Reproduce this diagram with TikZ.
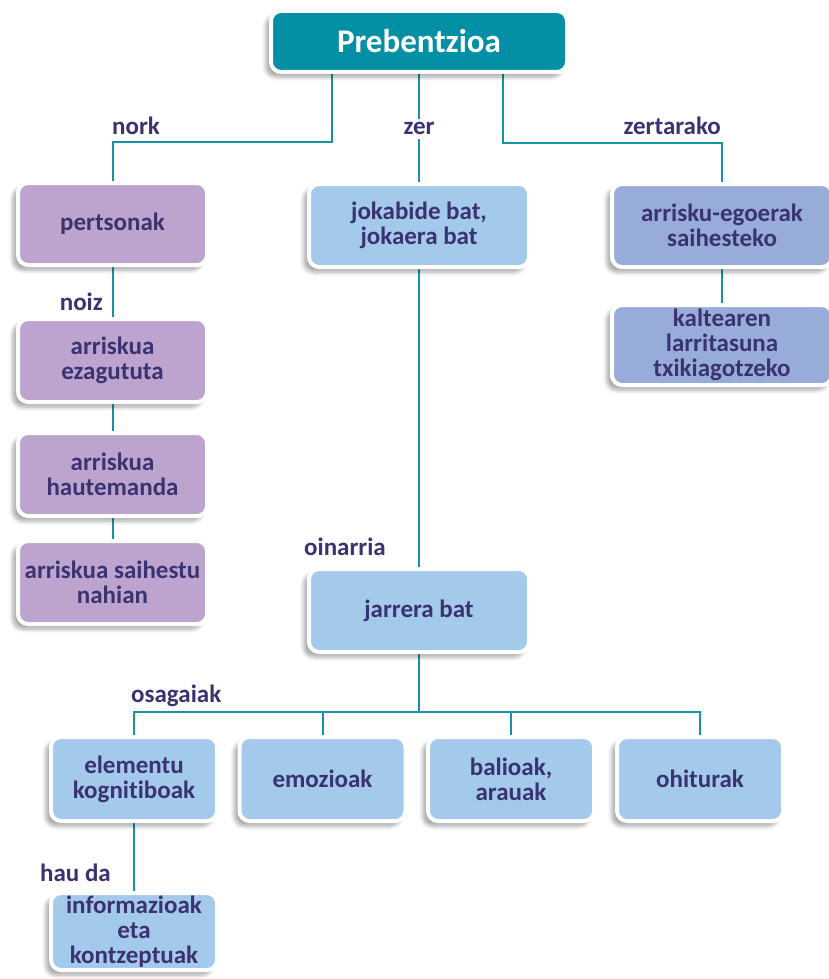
\documentclass[tikz,border=0pt]{standalone}
\usepackage{fontspec}
\setmainfont{Carlito}[Ligatures=NoCommon,RawFeature={-liga;-clig;-dlig}]
\usetikzlibrary{shadows.blur,backgrounds}
\definecolor{txt}{HTML}{3A3271}
\definecolor{teal}{HTML}{0390A4}
\definecolor{lnc}{HTML}{1693A5}
\definecolor{purp}{HTML}{BCA4CF}
\definecolor{lblue}{HTML}{A3C9EB}
\definecolor{dblue}{HTML}{98ACD9}
\begin{document}
\begin{tikzpicture}[x=1pt,y=-1pt,
  box/.style={draw=white, line width=4pt, rounded corners=10pt, align=center,
    inner sep=0pt, text=txt, font=\bfseries\fontsize{25}{25}\selectfont,
    blur shadow={shadow xshift=-5pt, shadow yshift=-5pt, shadow blur steps=6, shadow blur radius=4pt, shadow opacity=35}},
  pbox/.style={box, fill=purp, minimum width=189pt},
  lbox/.style={box, fill=lblue},
  dbox/.style={box, fill=dblue, minimum width=220pt},
  lab/.style={text=txt, font=\bfseries\fontsize{25}{25}\selectfont, inner sep=0pt},
  conn/.style={draw=lnc, line width=2pt}]
\useasboundingbox (0,0) rectangle (829,979);
% title
\node[box, fill=teal, text=white, minimum width=296pt, minimum height=61pt,
  font=\bfseries\fontsize{33}{33}\selectfont] (top) at (419,41.5) {Prebentzioa};
% left column
\node[pbox, minimum height=82pt] (pers) at (112.5,224) {pertsonak};
\node[pbox, minimum height=83pt] (ezag) at (112.5,360.5) {arriskua\\ezagututa};
\node[pbox, minimum height=83pt] (haut) at (112.5,474.5) {arriskua\\hautemanda};
\node[pbox, minimum height=83pt] (saih) at (112.5,582.5) {arriskua saihestu\\nahian};
% middle
\node[lbox, minimum width=220pt, minimum height=83pt] (jok) at (419,225.5) {jokabide bat,\\jokaera bat};
\node[lbox, minimum width=220pt, minimum height=83pt] (jar) at (419,610.5) {jarrera bat};
% right
\node[dbox, minimum height=83pt] (arr) at (722,225.5) {arrisku-egoerak\\saihesteko};
\node[dbox, minimum height=80pt] (kalt) at (722,345) {kaltearen\\larritasuna\\txikiagotzeko};
% bottom
\node[lbox, minimum width=166pt, minimum height=84pt] (elem) at (134,779) {elementu\\kognitiboak};
\node[lbox, minimum width=166pt, minimum height=84pt] (emoz) at (322.5,779) {emozioak};
\node[lbox, minimum width=166pt, minimum height=84pt] (bal) at (511,779) {balioak,\\arauak};
\node[lbox, minimum width=166pt, minimum height=84pt] (ohit) at (700,779) {ohiturak};
\node[lbox, minimum width=166pt, minimum height=77pt] (info) at (134,931.5) {informazioak\\eta\\kontzeptuak};
% coordinates
\coordinate (tl) at (332,142);
\coordinate (tr) at (503,143);
\coordinate (bh) at (419,712);
\begin{scope}[on background layer]
\draw[conn] (tl |- top.south) -- (tl) -| (pers.north);
\draw[conn] (top.south) -- (jok.north);
\draw[conn] (tr |- top.south) -- (tr) -| (arr.north);
\draw[conn] (pers.south) -- (ezag.north);
\draw[conn] (ezag.south) -- (haut.north);
\draw[conn] (haut.south) -- (saih.north);
\draw[conn] (jok.south) -- (jar.north);
\draw[conn] (arr.south) -- (kalt.north);
\draw[conn] (jar.south) -- (bh);
\draw[conn] (elem.north) |- (bh) -| (ohit.north);
\draw[conn] (emoz.north) -- (emoz.north |- bh);
\draw[conn] (bal.north) -- (bal.north |- bh);
\draw[conn] (elem.south) -- (info.north);
\end{scope}
% labels
\node[lab, anchor=base west] (lnork) at (112,135) {nork};
\node[lab, anchor=base, fill=white, inner sep=4pt] (lzer) at (419,135) {zer};
\node[lab, anchor=base east] (lzert) at (721,135) {zertarako};
\node[lab, anchor=base east] (lnoiz) at (103,310) {noiz};
\node[lab, anchor=base east] (loin) at (386,555) {oinarria};
\node[lab, anchor=base west] (losa) at (131,702) {osagaiak};
\node[lab, anchor=base west] (lhau) at (40,881) {hau da};
\end{tikzpicture}
\end{document}
